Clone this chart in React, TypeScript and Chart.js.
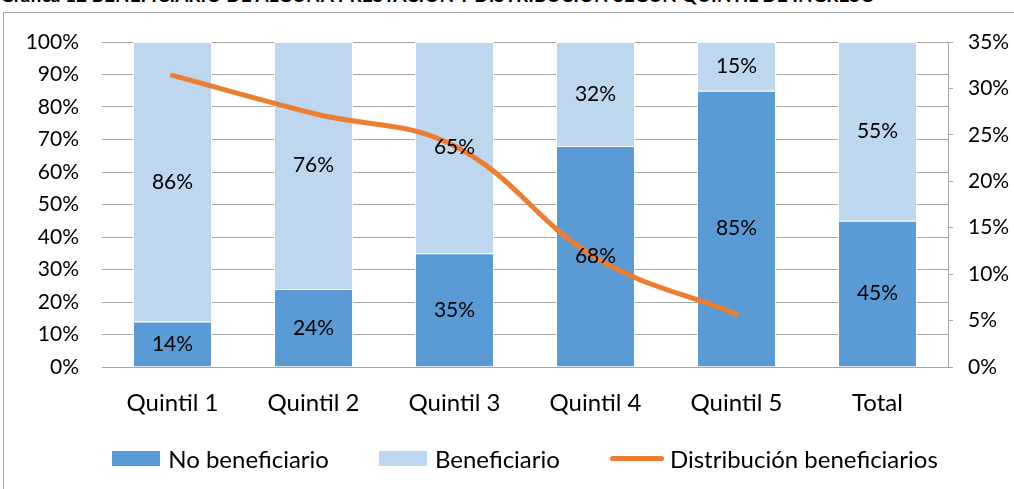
import React, { useEffect, useRef } from "react";
import { Chart, registerables } from "chart.js";

Chart.register(...registerables);

const title = "Gráfica 12 BENEFICIARIO DE ALGUNA PRESTACIÓN Y DISTRIBUCIÓN SEGÚN QUINTIL DE INGRESO";
const categories = ["Quintil 1", "Quintil 2", "Quintil 3", "Quintil 4", "Quintil 5", "Total"];
const noBeneficiario = [14, 24, 35, 68, 85, 45];
const beneficiario = [86, 76, 65, 32, 15, 55];
const distribucion: (number | null)[] = [31.4, 27.3, 23.8, 11.8, 5.7, null];
const seriesNames = ["No beneficiario", "Beneficiario", "Distribución beneficiarios"];

const FONT = "Lato, 'Noto Sans', sans-serif";
const BLUE = "#5b9bd5";
const LIGHT = "#bdd7ee";
const ORANGE = "#ed7d31";
const GRID = "#a6a6a6";

const barLabels = {
  id: "barLabels",
  afterDatasetsDraw(chart: any) {
    const ctx = chart.ctx;
    ctx.save();
    ctx.font = `21px ${FONT}`;
    ctx.fillStyle = "#000";
    ctx.textAlign = "center";
    ctx.textBaseline = "middle";
    [0, 1].forEach((di) => {
      const meta = chart.getDatasetMeta(di);
      meta.data.forEach((el: any, i: number) => {
        const v = chart.data.datasets[di].data[i];
        if (v == null) return;
        const p = el.getCenterPoint();
        ctx.fillText(v + "%", p.x, p.y);
      });
    });
    ctx.restore();
  },
};

export default function App() {
  const ref = useRef<HTMLCanvasElement | null>(null);

  useEffect(() => {
    if (!ref.current) return;
    const chart = new Chart(ref.current, {
      type: "bar",
      data: {
        labels: categories,
        datasets: [
          {
            type: "bar",
            label: seriesNames[0],
            data: noBeneficiario,
            backgroundColor: BLUE,
            borderColor: "#ffffff",
            borderWidth: 1,
            yAxisID: "y",
            stack: "s",
            order: 2,
            barPercentage: 0.56,
            categoryPercentage: 1,
          },
          {
            type: "bar",
            label: seriesNames[1],
            data: beneficiario,
            backgroundColor: LIGHT,
            borderColor: "#ffffff",
            borderWidth: 1,
            yAxisID: "y",
            stack: "s",
            order: 2,
            barPercentage: 0.56,
            categoryPercentage: 1,
          },
          {
            type: "line",
            label: seriesNames[2],
            data: distribucion,
            borderColor: ORANGE,
            backgroundColor: ORANGE,
            borderWidth: 5,
            borderCapStyle: "round",
            borderJoinStyle: "round",
            tension: 0.4,
            pointRadius: 0,
            yAxisID: "y1",
            order: 0,
          } as any,
        ],
      },
      options: {
        animation: false,
        responsive: false,
        layout: { padding: { top: 42, bottom: 62, left: 0, right: 0 } },
        plugins: {
          legend: { display: false },
          tooltip: { enabled: false },
        },
        scales: {
          x: {
            stacked: true,
            grid: { display: false, drawTicks: false },
            border: { display: false },
            ticks: { color: "#000", font: { family: FONT, size: 24 }, padding: 22 },
            afterFit: (s: any) => {
              s.height = 60;
            },
          },
          y: {
            stacked: true,
            min: 0,
            max: 100,
            position: "left",
            ticks: {
              stepSize: 10,
              color: "#000",
              font: { family: FONT, size: 21 },
              padding: 23,
              callback: (v: any) => v + "%",
            },
            grid: { color: GRID, lineWidth: 1, drawTicks: false },
            border: { display: false },
            afterFit: (s: any) => {
              s.width = 102;
            },
          },
          y1: {
            min: 0,
            max: 35,
            position: "right",
            ticks: {
              stepSize: 5,
              color: "#000",
              font: { family: FONT, size: 21 },
              padding: 15,
              callback: (v: any) => v + "%",
            },
            grid: { drawOnChartArea: false, color: GRID, tickLength: 5 },
            border: { display: true, color: GRID },
            afterFit: (s: any) => {
              s.width = 66;
            },
          },
        },
      },
      plugins: [barLabels],
    });
    return () => chart.destroy();
  }, []);

  const legendItem = (kind: "box" | "line", color: string, text: string) => (
    <div style={{ display: "flex", alignItems: "center", marginRight: 50 }}>
      {kind === "box" ? (
        <div style={{ width: 48, height: 15, background: color, marginRight: 8 }} />
      ) : (
        <div style={{ width: 54, height: 5, background: color, borderRadius: 3, marginRight: 6 }} />
      )}
      <span>{text}</span>
    </div>
  );

  return (
    <div
      style={{
        position: "fixed",
        left: 0,
        top: 0,
        width: 1014,
        height: 489,
        overflow: "hidden",
        background: "#fff",
        fontFamily: FONT,
      }}
    >
      <div
        style={{
          position: "absolute",
          left: 0,
          top: -15,
          whiteSpace: "nowrap",
          fontWeight: 700,
          fontSize: 19,
          lineHeight: "19px",
          color: "#000",
        }}
      >
        {title}
      </div>
      <div
        style={{
          position: "absolute",
          left: 3,
          top: 12,
          width: 1030,
          height: 500,
          border: "1px solid #a6a6a6",
          boxSizing: "border-box",
        }}
      />
      <canvas
        ref={ref}
        width={1014}
        height={489}
        style={{ position: "absolute", left: 0, top: 0, width: 1014, height: 489 }}
      />
      <div
        style={{
          position: "absolute",
          left: 102,
          width: 896,
          top: 444,
          height: 28,
          display: "flex",
          justifyContent: "center",
          alignItems: "center",
          fontSize: 24,
          color: "#000",
          whiteSpace: "nowrap",
        }}
      >
        {legendItem("box", BLUE, seriesNames[0])}
        {legendItem("box", LIGHT, seriesNames[1])}
        {legendItem("line", ORANGE, seriesNames[2])}
      </div>
    </div>
  );
}
